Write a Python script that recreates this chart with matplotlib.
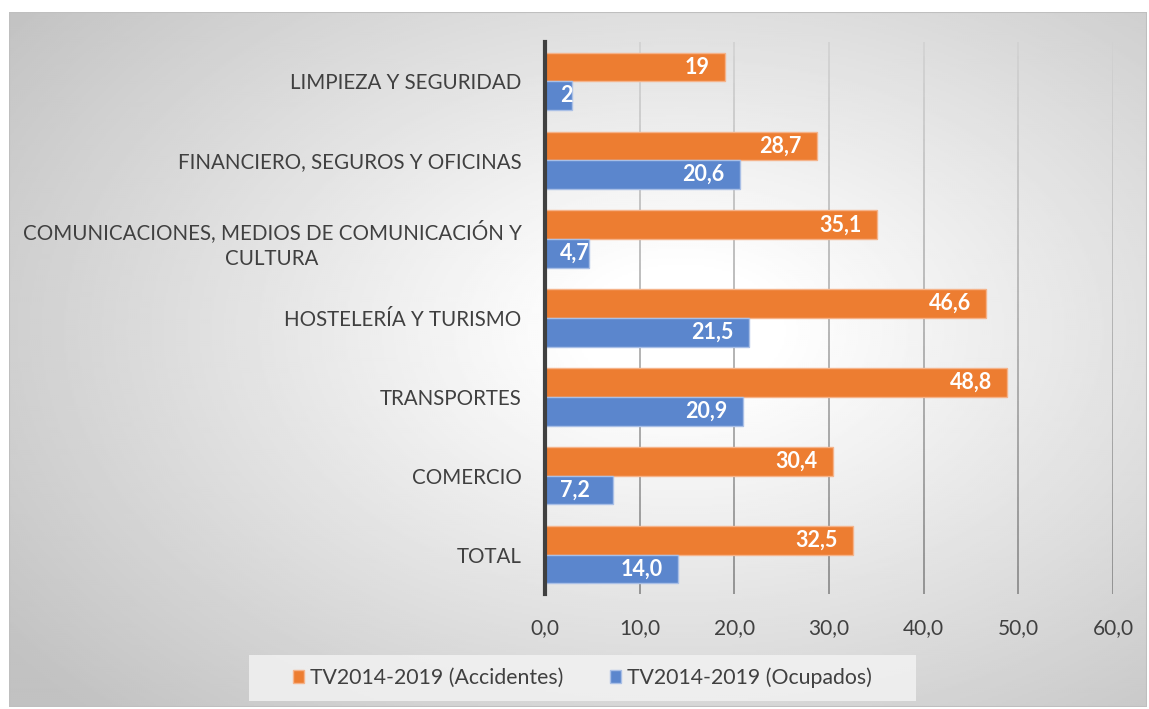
import matplotlib.pyplot as plt
import numpy as np
from matplotlib.patches import Rectangle

# datos (de arriba a abajo)
categorias = ["LIMPIEZA Y SEGURIDAD",
              "FINANCIERO, SEGUROS Y OFICINAS",
              "COMUNICACIONES, MEDIOS DE COMUNICACIÓN Y\nCULTURA",
              "HOSTELERÍA Y TURISMO",
              "TRANSPORTES",
              "COMERCIO",
              "TOTAL"]
accidentes = [19.0, 28.7, 35.1, 46.6, 48.8, 30.4, 32.5]
ocupados = [2.8, 20.6, 4.7, 21.5, 20.9, 7.2, 14.0]
etiq_accidentes = ["19", "28,7", "35,1", "46,6", "48,8", "30,4", "32,5"]
etiq_ocupados = ["2", "20,6", "4,7", "21,5", "20,9", "7,2", "14,0"]
xticks = [0, 10, 20, 30, 40, 50, 60]
series = ["TV2014-2019 (Accidentes)", "TV2014-2019 (Ocupados)"]

naranja = "#ED7D31"
azul = "#5B86CD"
gris_texto = "#404040"
fuente = "Lato"

W, H = 1149, 709
fig = plt.figure(figsize=(W / 100, H / 100), dpi=100)
fig.patch.set_facecolor("white")

# fondo con degradado radial
bg = fig.add_axes([9 / W, 1 - 707 / H, (1147 - 9) / W, (707 - 12) / H])
bg.set_zorder(-10)
yy, xx = np.mgrid[12:707:2, 9:1147:2]
d = np.sqrt(((xx - 680) / 560.0) ** 2 + ((yy - 330) / 360.0) ** 2)
v = np.clip(1.03 - 0.18 * d, 0.76, 1.0)
bg.imshow(v, cmap="gray", vmin=0, vmax=1, aspect="auto",
          extent=[0, 1, 0, 1], interpolation="bilinear")
bg.set_xlim(0, 1)
bg.set_ylim(0, 1)
bg.axis("off")
bg.add_patch(Rectangle((0, 0), 1, 1, transform=bg.transAxes, fill=False,
                       edgecolor="#bfbfbf", linewidth=1.5))

# caja de la leyenda
bg.add_patch(Rectangle(((249 - 9) / 1138, 1 - (701 - 12) / 695), (916 - 249) / 1138,
                       (701 - 655) / 695, transform=bg.transAxes,
                       facecolor="#f2f2f2", edgecolor="none", alpha=0.85))

ax = fig.add_axes([545 / W, 1 - 594 / H, (1113 - 545) / W, (594 - 42) / H])
ax.patch.set_alpha(0)

y = np.arange(len(categorias))
h = 0.365
b1 = ax.barh(y - h / 2, accidentes, height=h, color=naranja,
             edgecolor="#f5b38a", linewidth=1, label=series[0], zorder=3)
b2 = ax.barh(y + h / 2, ocupados, height=h, color=azul,
             edgecolor="#a9bfe6", linewidth=1, label=series[1], zorder=3)

for barras, etiquetas in [(b1, etiq_accidentes), (b2, etiq_ocupados)]:
    for bar, txt in zip(barras, etiquetas):
        yc = bar.get_y() + bar.get_height() / 2
        if bar.get_width() < 8:
            # barras cortas: la etiqueta empieza cerca del eje
            ax.annotate(txt, (0, yc), xytext=(11, 0), textcoords="offset points",
                        ha="left", va="center", color="white", fontweight="bold",
                        fontsize=15.5, family=fuente, zorder=4)
        else:
            ax.annotate(txt, (bar.get_width(), yc), xytext=(-11, 0),
                        textcoords="offset points", ha="right", va="center",
                        color="white", fontweight="bold", fontsize=15.5,
                        family=fuente, zorder=4)

ax.set_xlim(0, 60)
ax.set_ylim(len(categorias) - 0.5, -0.5)
ax.set_xticks(xticks)
ax.set_xticklabels([f"{t:.1f}".replace(".", ",") for t in xticks],
                   fontsize=15, color=gris_texto, family=fuente)
ax.set_yticks(y)
ax.set_yticklabels(categorias, fontsize=14.8, color=gris_texto, family=fuente,
                   multialignment="center", linespacing=1.4)
ax.tick_params(axis="both", length=0)
ax.tick_params(axis="y", pad=17)
ax.tick_params(axis="x", pad=17)

# líneas de cuadrícula con tono degradado
for t in xticks[1:]:
    n = 40
    ys = np.linspace(-0.5, len(categorias) - 0.5, n + 1)
    for i in range(n):
        c = 0.82 - 0.30 * (i / n)
        ax.plot([t, t], [ys[i], ys[i + 1]], color=str(c), linewidth=1.2,
                zorder=1, solid_capstyle="butt")

for s in ["top", "right", "bottom"]:
    ax.spines[s].set_visible(False)
ax.spines["left"].set_color("#404040")
ax.spines["left"].set_linewidth(3)
ax.spines["left"].set_zorder(5)

leg = fig.legend(handles=[b1, b2], labels=series, loc="center",
                 bbox_to_anchor=(582 / W, 1 - 678 / H), ncol=2, frameon=False,
                 prop={"family": fuente, "size": 15.3}, handlelength=0.55,
                 handleheight=0.55, handletextpad=0.25, columnspacing=2.2)
for t in leg.get_texts():
    t.set_color(gris_texto)

fig.savefig("out.png", dpi=100)
